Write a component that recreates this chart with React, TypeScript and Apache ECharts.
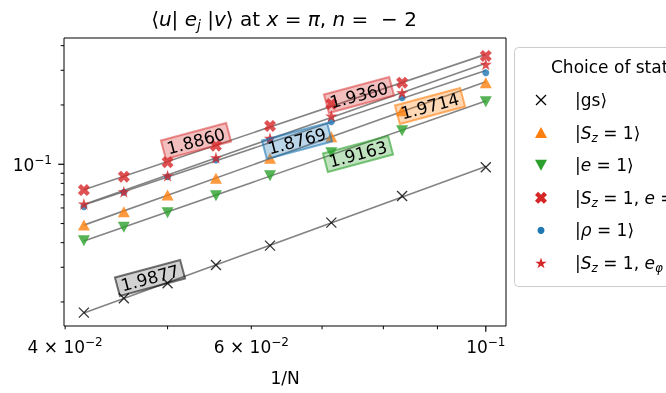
import React, { useEffect, useRef } from 'react';
import * as echarts from 'echarts';

const FONT = 'DejaVu Sans';

// x = 1/N for N = 24, 22, 20, 18, 16, 14, 12, 10
const invN = [1 / 24, 1 / 22, 1 / 20, 1 / 18, 1 / 16, 1 / 14, 1 / 12, 1 / 10];
const gsVals = [0.01765, 0.02089, 0.02489, 0.03083, 0.03862, 0.05053, 0.06903, 0.0966];
const sz1Vals = [0.0492, 0.05745, 0.06984, 0.0849, 0.1073, 0.1378, 0.187, 0.2595];
const e1Vals = [0.04093, 0.04787, 0.05679, 0.06927, 0.08753, 0.1145, 0.1481, 0.2078];
const sz1e1Vals = [0.074, 0.0865, 0.1024, 0.1243, 0.1565, 0.2024, 0.2595, 0.3546];
const rho1Vals = [0.0609, 0.0721, 0.0865, 0.1051, 0.1328, 0.1645, 0.2178, 0.2917];
const sz1ephiVals = [0.0629, 0.0726, 0.0875, 0.108, 0.1355, 0.1758, 0.231, 0.3219];

const seriesNames = ['|gs⟩', '|Sz=1⟩', '|e=1⟩', '|Sz=1,e=1⟩', '|ρ=1⟩', '|Sz=1,eφ=1⟩'];
const legendRich = [
  '{n||gs⟩}',
  '{n||}{i|S}{s|z}{n| = 1⟩}',
  '{n||}{i|e}{n| = 1⟩}',
  '{n||}{i|S}{s|z}{n| = 1, }{i|e}{n| = 1⟩}',
  '{n||}{i|ρ}{n| = 1⟩}',
  '{n||}{i|S}{s|z}{n| = 1, }{i|e}{s|φ}{n| = 1⟩}',
];
const slopeTexts = ['1.9877', '1.9714', '1.9163', '1.8860', '1.8769', '1.9360'];

const xMinorTicks = [0.04, 0.05, 0.06, 0.07, 0.08, 0.09];
const xMajorTicks = [0.1];
const xTickLabelValues = [0.04, 0.06, 0.1];
const xTickMantissas = ['4', '6', ''];
const xTickExponents = ['−2', '−2', '−1'];
const yMinorTicks = [0.02, 0.03, 0.04, 0.05, 0.06, 0.07, 0.08, 0.09, 0.2, 0.3, 0.4];
const yMajorTicks = [0.1];
const yTickLabelValues = [0.1];
const yTickExponents = ['−1'];

const allVals = [gsVals, sz1Vals, e1Vals, sz1e1Vals, rho1Vals, sz1ephiVals];

// styling (not data)
const C_ORANGE = '#ff7f0e';
const C_GREEN = '#2ca02c';
const C_RED = '#d62728';
const C_BLUE = '#1f77b4';

const starPath = (() => {
  let d = '';
  for (let k = 0; k < 10; k++) {
    const a = -Math.PI / 2 + (k * Math.PI) / 5;
    const r = k % 2 ? 0.382 : 1;
    d += (k ? 'L' : 'M') + (10 + 10 * r * Math.cos(a)).toFixed(3) + ',' + (10 + 10 * r * Math.sin(a)).toFixed(3);
  }
  return 'path://' + d + 'Z';
})();
const bigXPath = 'path://M0,2.6L2.6,0L5,2.4L7.4,0L10,2.6L7.6,5L10,7.4L7.4,10L5,7.6L2.6,10L0,7.4L2.4,5Z';

const markerStyles: any[] = [
  { symbol: 'path://M0,0L10,10M10,0L0,10', symbolSize: 10, itemStyle: { color: 'transparent', borderColor: '#000', borderWidth: 1.3 } },
  { symbol: 'triangle', symbolSize: [12, 11], itemStyle: { color: C_ORANGE } },
  { symbol: 'triangle', symbolRotate: 180, symbolSize: [12, 11], itemStyle: { color: C_GREEN } },
  { symbol: bigXPath, symbolSize: 12, itemStyle: { color: C_RED } },
  { symbol: 'circle', symbolSize: 7, itemStyle: { color: C_BLUE } },
  { symbol: starPath, symbolSize: 12, itemStyle: { color: C_RED } },
];
const boxColors = [
  ['rgba(0,0,0,0.18)', 'rgba(0,0,0,0.55)'],
  ['rgba(255,127,14,0.3)', 'rgba(255,127,14,0.6)'],
  ['rgba(44,160,44,0.3)', 'rgba(44,160,44,0.6)'],
  ['rgba(214,39,40,0.3)', 'rgba(214,39,40,0.5)'],
  ['rgba(31,119,180,0.3)', 'rgba(31,119,180,0.6)'],
  ['rgba(214,39,40,0.3)', 'rgba(214,39,40,0.5)'],
];
const labelCenters = [[150, 278], [430, 106], [358, 154], [196, 141], [297, 141], [359, 95]];

function fitLine(xs: number[], ys: number[]) {
  const lx = xs.map(Math.log10);
  const ly = ys.map(Math.log10);
  const n = xs.length;
  const mx = lx.reduce((a, b) => a + b, 0) / n;
  const my = ly.reduce((a, b) => a + b, 0) / n;
  let sxy = 0, sxx = 0;
  for (let i = 0; i < n; i++) {
    sxy += (lx[i] - mx) * (ly[i] - my);
    sxx += (lx[i] - mx) * (lx[i] - mx);
  }
  const b = sxy / sxx;
  const a = my - b * mx;
  const x0 = Math.min(...xs), x1 = Math.max(...xs);
  return [[x0, Math.pow(10, a + b * Math.log10(x0))], [x1, Math.pow(10, a + b * Math.log10(x1))]];
}

function legendMarker(i: number, cx: number, cy: number): any[] {
  const z = 101;
  switch (i) {
    case 0:
      return [
        { type: 'line', z, shape: { x1: cx - 5, y1: cy - 5, x2: cx + 5, y2: cy + 5 }, style: { stroke: '#000', lineWidth: 1.3 } },
        { type: 'line', z, shape: { x1: cx - 5, y1: cy + 5, x2: cx + 5, y2: cy - 5 }, style: { stroke: '#000', lineWidth: 1.3 } },
      ];
    case 1:
      return [{ type: 'polygon', z, shape: { points: [[cx, cy - 5.5], [cx - 6, cy + 5.5], [cx + 6, cy + 5.5]] }, style: { fill: C_ORANGE } }];
    case 2:
      return [{ type: 'polygon', z, shape: { points: [[cx, cy + 5.5], [cx - 6, cy - 5.5], [cx + 6, cy - 5.5]] }, style: { fill: C_GREEN } }];
    case 3: {
      const p = [[0, 2.6], [2.6, 0], [5, 2.4], [7.4, 0], [10, 2.6], [7.6, 5], [10, 7.4], [7.4, 10], [5, 7.6], [2.6, 10], [0, 7.4], [2.4, 5]];
      return [{ type: 'polygon', z, shape: { points: p.map(([x, y]) => [cx - 6 + x * 1.2, cy - 6 + y * 1.2]) }, style: { fill: C_RED } }];
    }
    case 4:
      return [{ type: 'circle', z, shape: { cx, cy, r: 3.5 }, style: { fill: C_BLUE } }];
    default: {
      const pts: number[][] = [];
      for (let k = 0; k < 10; k++) {
        const a = -Math.PI / 2 + (k * Math.PI) / 5;
        const r = k % 2 ? 2.3 : 6;
        pts.push([cx + r * Math.cos(a), cy + 0.5 + r * Math.sin(a)]);
      }
      return [{ type: 'polygon', z, shape: { points: pts }, style: { fill: C_RED } }];
    }
  }
}

export default function App() {
  const ref = useRef<HTMLDivElement>(null);
  useEffect(() => {
    const chart = echarts.init(ref.current!, null, { renderer: 'svg' });
    const fitSeries = allVals.map((vals, i) => ({
      type: 'line',
      name: seriesNames[i] + ' fit',
      data: fitLine(invN, vals),
      symbol: 'none',
      showSymbol: false,
      silent: true,
      z: 2,
      lineStyle: { color: 'rgba(110,110,110,0.85)', width: 1.6 },
    }));
    const scatterSeries = allVals.map((vals, i) => ({
      type: 'scatter',
      name: seriesNames[i],
      data: invN.map((x, j) => [x, vals[j]]),
      z: 3 + i,
      ...markerStyles[i],
    }));
    chart.setOption({
      animation: false,
      grid: { left: 64, top: 38, width: 442, height: 288, show: true, borderColor: '#000', borderWidth: 1, backgroundColor: 'transparent' },
      xAxis: {
        type: 'log', logBase: 10, min: 0.0399, max: 0.1045,
        axisLine: { show: false }, axisTick: { show: false }, axisLabel: { show: false }, splitLine: { show: false },
        name: '1/N', nameLocation: 'middle', nameGap: 43,
        nameTextStyle: { fontFamily: FONT, fontSize: 17, color: '#000' },
      },
      yAxis: {
        type: 'log', logBase: 10, min: 0.0151, max: 0.4375,
        axisLine: { show: false }, axisTick: { show: false }, axisLabel: { show: false }, splitLine: { show: false },
      },
      series: [...fitSeries, ...scatterSeries],
    });

    const gx = (v: number) => chart.convertToPixel({ xAxisIndex: 0 } as any, v) as unknown as number;
    const gy = (v: number) => chart.convertToPixel({ yAxisIndex: 0 } as any, v) as unknown as number;
    const left = 64, bottom = 326;
    const els: any[] = [];
    const tick = (x1: number, y1: number, x2: number, y2: number, w: number) =>
      els.push({ type: 'line', z: 100, shape: { x1, y1, x2, y2 }, style: { stroke: '#000', lineWidth: w } });
    xMinorTicks.forEach((v) => { const x = gx(v); tick(x, bottom, x, bottom + 3.3, 1); });
    xMajorTicks.forEach((v) => { const x = gx(v); tick(x, bottom, x, bottom + 5.8, 1.2); });
    yMinorTicks.forEach((v) => { const y = gy(v); tick(left, y, left - 3.3, y, 1); });
    yMajorTicks.forEach((v) => { const y = gy(v); tick(left, y, left - 5.8, y, 1.2); });

    const tickRich = {
      b: { fontFamily: FONT, fontSize: 17, lineHeight: 22, fill: '#000' },
      p: { fontFamily: FONT, fontSize: 12, lineHeight: 10, verticalAlign: 'top', fill: '#000' },
    };
    xTickLabelValues.forEach((v, i) => {
      const m = xTickMantissas[i];
      els.push({
        type: 'text', z: 100, x: gx(v), y: 336,
        style: {
          text: (m ? `{b|${m} × 10}` : '{b|10}') + `{p|${xTickExponents[i]}}`,
          rich: tickRich, align: 'center', verticalAlign: 'top', textAlign: 'center', textVerticalAlign: 'top',
        },
      });
    });
    yTickLabelValues.forEach((v, i) => {
      els.push({
        type: 'text', z: 100, x: 52, y: gy(v) + 1,
        style: {
          text: `{b|10}{p|${yTickExponents[i]}}`,
          rich: tickRich, align: 'right', verticalAlign: 'middle', textAlign: 'right', textVerticalAlign: 'middle',
        },
      });
    });

    // title
    els.push({
      type: 'text', z: 100, x: 284, y: 19,
      style: {
        text: '{n|⟨}{i|u}{n|| }{i|e}{s|j}{n| |}{i|v}{n|⟩ at }{i|x}{n| = }{i|π}{n|, }{i|n}{n| =  − 2}',
        rich: {
          n: { fontFamily: FONT, fontSize: 20, lineHeight: 26, fill: '#000' },
          i: { fontFamily: FONT, fontSize: 20, lineHeight: 26, fontStyle: 'italic', fill: '#000' },
          s: { fontFamily: FONT, fontSize: 14, lineHeight: 12, fontStyle: 'italic', verticalAlign: 'bottom', fill: '#000' },
        },
        align: 'center', verticalAlign: 'middle', textAlign: 'center', textVerticalAlign: 'middle',
      },
    });

    // legend
    els.push({
      type: 'rect', z: 100,
      shape: { x: 514.5, y: 47.5, width: 220, height: 239, r: 4 },
      style: { fill: 'rgba(255,255,255,0.8)', stroke: '#cccccc', lineWidth: 1 },
    });
    els.push({
      type: 'text', z: 101, x: 551, y: 67,
      style: { text: 'Choice of state', fontFamily: FONT, fontSize: 17, fill: '#000', align: 'left', verticalAlign: 'middle', textAlign: 'left', textVerticalAlign: 'middle' },
    });
    const legRich = {
      n: { fontFamily: FONT, fontSize: 17, lineHeight: 22, fill: '#000' },
      i: { fontFamily: FONT, fontSize: 17, lineHeight: 22, fontStyle: 'italic', fill: '#000' },
      s: { fontFamily: FONT, fontSize: 12, lineHeight: 10, fontStyle: 'italic', verticalAlign: 'bottom', fill: '#000' },
    };
    legendRich.forEach((t, i) => {
      const cy = 100 + i * 32.6;
      els.push(...legendMarker(i, 541, cy));
      els.push({
        type: 'text', z: 101, x: 575, y: cy,
        style: { text: t, rich: legRich, align: 'left', verticalAlign: 'middle', textAlign: 'left', textVerticalAlign: 'middle' },
      });
    });

    // slope annotations
    slopeTexts.forEach((t, i) => {
      const [cx, cy] = labelCenters[i];
      els.push({
        type: 'text', z: 100, x: cx, y: cy, rotation: (15 * Math.PI) / 180,
        style: {
          text: t, fontFamily: FONT, fontSize: 17, fill: '#000',
          align: 'center', verticalAlign: 'middle', textAlign: 'center', textVerticalAlign: 'middle',
          backgroundColor: boxColors[i][0], borderColor: boxColors[i][1], borderWidth: 1, padding: [1, 4],
        },
      });
    });

    chart.setOption({ graphic: { elements: els } });
    return () => chart.dispose();
  }, []);
  return <div ref={ref} style={{ position: 'fixed', left: 0, top: 0, width: 666, height: 393 }} />;
}
